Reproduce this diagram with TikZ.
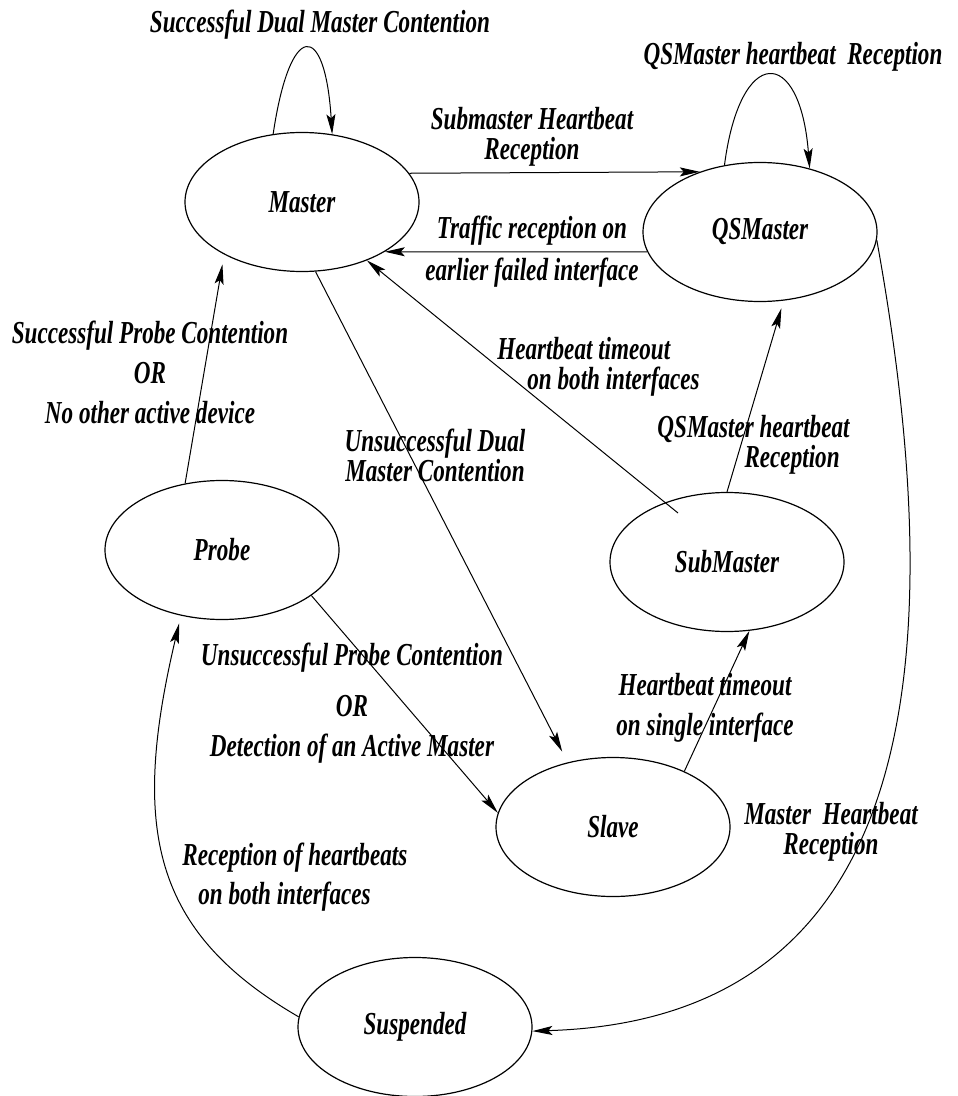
\documentclass[tikz,border=0pt]{standalone}
\usepackage{fontspec}
\newfontfamily\labfont{Liberation Serif}[FakeStretch=0.723]
\usetikzlibrary{shapes.geometric,arrows.meta}
\begin{document}
\begin{tikzpicture}[x=0.5pt,y=-0.5pt,
  state/.style={ellipse, draw, line width=0.6pt, minimum width=117pt, minimum height=69.5pt, inner sep=0pt,
    font=\labfont\bfseries\itshape\fontsize{16}{15}\selectfont},
  lab/.style={font=\labfont\bfseries\itshape\fontsize{16}{15}\selectfont, inner sep=0pt, align=center},
  arr/.style={line width=0.5pt, -{Stealth[length=10pt,width=4.5pt,inset=2pt]}}]
\fill[white] (0,0) rectangle (957,1096);
\useasboundingbox (0,0) rectangle (957,1096);

% states
\node[state] (M) at (302,202) {Master};
\node[state] (Q) at (760,232) {QSMaster};
\node[state] (P) at (222,550) {Probe};
\node[state] (S) at (727,562) {SubMaster};
\node[state] (L) at (613,827) {Slave};
\node[state] (U) at (415,1027) {Suspended};

% labels
\node[lab] (l1) at (320,25) {Successful Dual Master Contention};
\node[lab] (l2) at (532,137) {Submaster Heartbeat\\Reception};
\node[lab] (l3) at (532,252) {Traffic reception on\\[6pt]earlier failed interface};
\node[lab] (l4) at (793,57) {QSMaster heartbeat\ \ Reception};
\node[lab] (l5) at (150,372) {Successful Probe Contention\\[5pt]OR\\[5pt]No other active device};
\node[lab] (l6) at (435,455) {Unsuccessful Dual\\Master Contention};
\node[lab, align=left, anchor=west] (l7) at (497,367) {Heartbeat timeout\\\hspace*{15pt}on both interfaces};
\node[lab, align=right, anchor=east] (l8) at (850,445) {QSMaster heartbeat\\Reception\hspace*{5pt}};
\node[lab] (l9) at (352,703) {Unsuccessful Probe Contention\\[10.5pt]OR\\[5pt]Detection of an Active Master};
\node[lab] (l10) at (705,708) {Heartbeat timeout\\[5pt]on single interface};
\node[lab] (l11) at (831,832) {Master\ \ Heartbeat\\Reception};
\node[lab, align=left, anchor=west] (l12) at (182,877) {Reception of heartbeats\\[4.5pt]\hspace*{8pt}on both interfaces};

% transitions
\draw[arr] (M.113) .. controls (290,20) and (325,20) .. (M.66);
\draw[arr] (Q.118) .. controls (740,45) and (800,45) .. (Q.52.6);
\draw[arr] (M.15.9) -- (Q.135);
\draw[arr] (Q.190.1) -- (M.-31.6);
\draw[arr] ([shift={(-49,-49)}]S.center) -- (M.-42.7);
\draw[arr, shorten >=6pt] (M.-79.3) -- (L.125.6);
\draw[arr, shorten >=5pt] (P.119) -- (M.214.9);
\draw[arr] (P.-27.3) -- (L.173);
\draw[arr] (L.38.6) -- (S.-72.8);
\draw[arr, shorten >=4pt] (S.90) -- (Q.-71.3);
\draw[arr] (Q.-4) .. controls (960,700) and (900,1020) .. (U.-2);
\draw[arr, shorten >=4pt] (U.175) .. controls (151.5,931.5) and (130.7,827.9) .. (P.238.4);
\end{tikzpicture}
\end{document}
